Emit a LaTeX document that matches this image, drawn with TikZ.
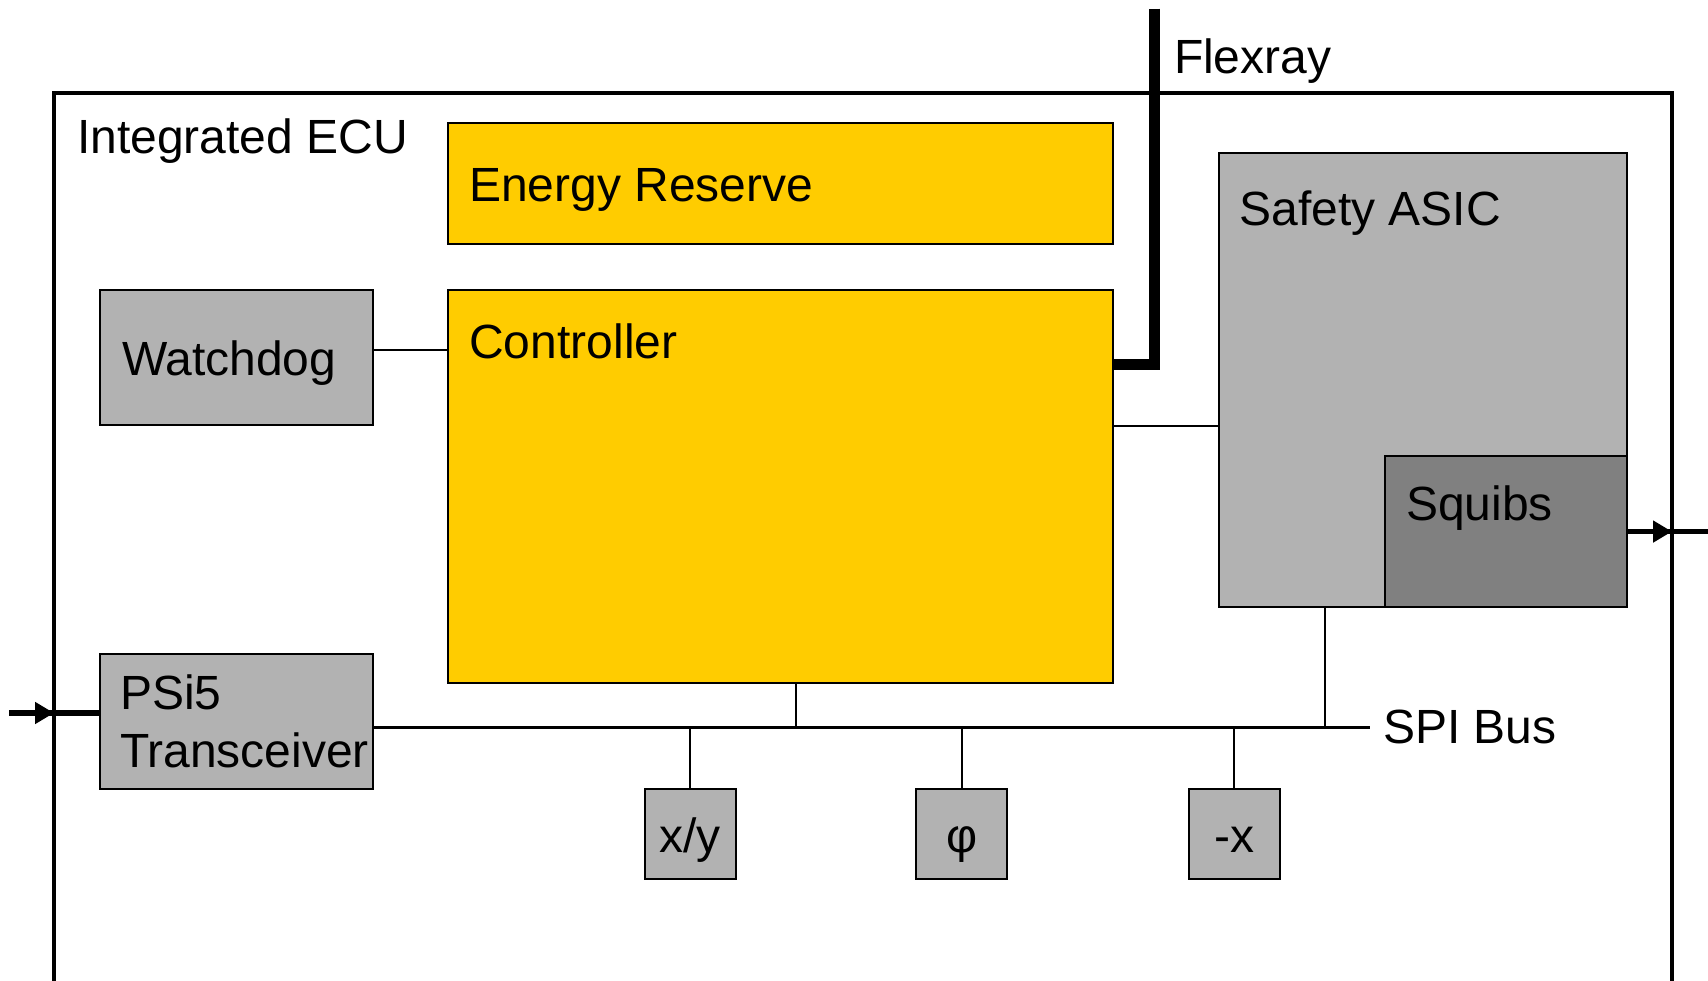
\documentclass[tikz,border=0pt]{standalone}
\usepackage{fontspec}
\setmainfont{Liberation Sans}
\usetikzlibrary{arrows.meta}
\definecolor{ecuyellow}{RGB}{255,204,0}
\definecolor{ecugray}{RGB}{178,178,178}
\definecolor{squibgray}{RGB}{128,128,128}
\begin{document}
\begin{tikzpicture}[x=1pt,y=-1pt,
  every node/.style={outer sep=0pt, inner sep=0pt},
  blk/.style={draw=black, line width=2pt, rectangle},
  ybox/.style={blk, fill=ecuyellow},
  gbox/.style={blk, fill=ecugray},
  sbox/.style={blk, fill=ecugray, minimum width=91pt, minimum height=90.4pt},
  lbl/.style={font=\fontsize{48}{57.3}\selectfont, text=black},
  wire/.style={line width=2pt},
  bus/.style={line width=3pt},
  fat/.style={line width=5.5pt},
  tipped/.style={-{Triangle[length=19pt,width=21pt]}},
  flex/.style={line width=11pt, line join=miter},
]
\clip (0,0) rectangle (1708,980);
\fill[white] (0,0) rectangle (1708,980);

% outer frame
\node[draw=black, line width=4pt, minimum width=1618pt, minimum height=907.4pt] (ecu) at (863,546.3) {};
\node[lbl, anchor=base west] (ecul) at (77,153.3) {Integrated ECU};

% blocks
\node[ybox, minimum width=665.6pt, minimum height=121.2pt] (energy) at (780.5,183.7) {};
\node[ybox, minimum width=665.6pt, minimum height=393.5pt] (ctrl) at (780.5,486.25) {};
\node[gbox, minimum width=272.3pt, minimum height=135pt] (wd) at (236.35,357.3) {};
\node[gbox, minimum width=272.3pt, minimum height=135.1pt] (psi) at (236.35,721.15) {};
\node[gbox, minimum width=408.9pt, minimum height=453.3pt] (asic) at (1422.95,380.05) {};
\node[blk, fill=squibgray, minimum width=242.9pt, minimum height=150.3pt] (squibs) at (1505.95,531.55) {};
\node[sbox] (xy) at (690.1,833.9) {};
\node[sbox] (phi) at (961.85,833.9) {};
\node[sbox] (mx) at (1234.2,833.9) {};

% labels
\node[lbl, anchor=base west] (energyl) at (469,201.7) {Energy Reserve};
\node[lbl, anchor=base west] (ctrll) at (469.3,358.3) {Controller};
\node[lbl, anchor=base west] (wdl) at (122,375) {Watchdog};
\node[lbl, anchor=north west, align=left] (psil) at (120,675) {PSi5\\Transceiver};
\node[lbl, anchor=base west] (asicl) at (1239.3,225) {Safety ASIC};
\node[lbl, anchor=base west] (squibsl) at (1406,520) {Squibs};
\node[lbl, anchor=base] (xyl) at (690.1,852.3) {x/y};
\node[lbl, anchor=base] (phil) at (961.85,852.3) {φ};
\node[lbl, anchor=base] (mxl) at (1234.2,852.3) {-x};
\node[lbl, anchor=base west] (flexl) at (1174,73.3) {Flexray};
\node[lbl, anchor=base west] (spil) at (1383,743) {SPI Bus};

% connectors
\coordinate (wdc) at (372.5,349.7);
\draw[wire] (wdc -| wd.east) -- (wdc -| ctrl.west);
\coordinate (cac) at (1113.3,425.9);
\draw[wire] (cac -| ctrl.east) -- (cac -| asic.west);

\coordinate (spiend) at (1370.3,727.6);
\draw[bus] (spiend -| psi.east) -- (spiend);
\coordinate (cb) at (796.3,727.6);
\draw[wire] (cb) -- (cb |- ctrl.south);
\coordinate (ab) at (1324.6,727.6);
\draw[wire] (ab) -- (ab |- asic.south);
\draw[wire] (xy.north) -- (xy.north |- spiend);
\draw[wire] (phi.north) -- (phi.north |- spiend);
\draw[wire] (mx.north) -- (mx.north |- spiend);

% flexray
\coordinate (fxtop) at (1154.5,8.5);
\coordinate (fxc) at (1154.5,364.5);
\draw[flex] (fxtop) -- (fxc) -- (fxc -| ctrl.east);

% input arrow
\coordinate (inL) at (9,713);
\draw[fat] (inL) -- (inL -| psi.west);
\draw[fat, tipped] (inL) -- (inL -| ecu.west);

% output arrow
\coordinate (outR) at (1708,531.55);
\draw[fat] (squibs.east) -- (outR);
\draw[fat, tipped] (squibs.east) -- (squibs.east -| ecu.east);
\end{tikzpicture}
\end{document}
